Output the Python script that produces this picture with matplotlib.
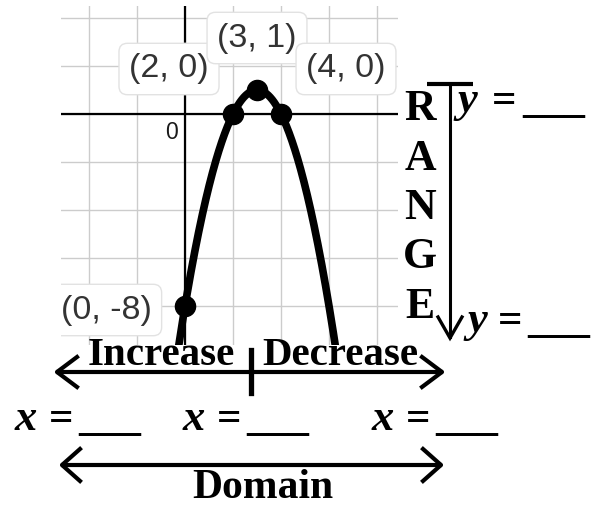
import numpy as np
import matplotlib
matplotlib.use("Agg")
import matplotlib.pyplot as plt

# points marked on the parabola
point_x = [0, 2, 3, 4]
point_y = [-8, 0, 1, 0]
point_labels = ["(0, -8)", "(2, 0)", "(3, 1)", "(4, 0)"]

# y = a x^2 + b x + c through the roots 2, 4 and vertex (3, 1)
coef = [-1, 6, -8]

x_ticks = [-4, -2, 0, 2, 4, 6, 8]
y_ticks = [-8, -6, -4, -2, 0, 2, 4]

range_letters = ["R", "A", "N", "G", "E"]
row_words = ["Increase", "Decrease"]

W, H = 594, 507
fig = plt.figure(figsize=(W / 100, H / 100), dpi=100)

# graph area in pixels (left, top, right, bottom)
gl, gt, gr, gb = 61, 6, 398, 345
ax = fig.add_axes([gl / W, 1 - gb / H, (gr - gl) / W, (gb - gt) / H])
ax.set_xlim(-5.17, 8.875)
ax.set_ylim(-9.625, 4.5)
ax.set_xticks(x_ticks)
ax.set_yticks(y_ticks)
ax.grid(True, color="#cccccc", lw=1.0)
ax.tick_params(length=0, labelbottom=False, labelleft=False)
for s in ax.spines.values():
    s.set_visible(False)
ax.axhline(0, color="black", lw=1.6, zorder=2)
ax.axvline(0, color="black", lw=1.6, zorder=2)

xs = np.linspace(-1, 7, 400)
ax.plot(xs, np.polyval(coef, xs), color="black", lw=5.5, zorder=3,
        solid_capstyle="butt")
ax.plot(point_x, point_y, "o", color="black", ms=14.5, zorder=4)
ax.text(-0.3, -0.78, "0", fontsize=16.5, color="#1a1a1a",
        ha="right", va="center", family="Liberation Sans")

# overlay in pixel coordinates
ov = fig.add_axes([0, 0, 1, 1], zorder=5)
ov.set_xlim(0, W)
ov.set_ylim(H, 0)
ov.axis("off")

label_pos = [(106, 310), (169, 69), (257, 38), (346, 69)]
for (lx, ly), lab in zip(label_pos, point_labels):
    t = ov.text(lx, ly, lab, fontsize=24.5, color="#333333", ha="center",
                va="center", family="Liberation Sans",
                bbox=dict(boxstyle="round,pad=0.3,rounding_size=0.25",
                          fc="white", ec="#e2e2e2", lw=1.0))
    t.set_clip_box(ax.bbox)
    t.set_clip_on(True)

serif = "Liberation Serif"
# RANGE column and its arrow
for i, ch in enumerate(range_letters):
    ov.text(420, 120 + 49.5 * i, ch, fontsize=31.5, fontweight="bold",
            family=serif, ha="center", va="baseline")
ov.plot([427, 473], [84, 84], color="black", lw=3, solid_capstyle="butt")
ov.plot([450, 450], [84, 337], color="black", lw=2.2)
ov.plot([438, 450, 462], [317, 338, 317], color="black", lw=2.4,
        solid_joinstyle="miter")

def blank(x_left, eq_left, line_left, base, var):
    ov.text(x_left, base, var, fontsize=32, fontweight="bold",
            style="italic", family=serif, va="baseline")
    ov.text(eq_left, base, "=", fontsize=31, fontweight="bold",
            family=serif, va="baseline")
    ov.text(line_left, base, "___", fontsize=30, fontweight="bold",
            family=serif, va="baseline")

blank(457, 492, 522, 112, "y")
blank(467, 498, 527, 332, "y")
for xl in [15, 183, 372]:
    blank(xl, xl + 34, xl + 63, 430, "x")

# increase / decrease arrow
ov.text(88, 365, row_words[0], fontsize=29.5, fontweight="bold",
        family=serif, va="baseline")
ov.text(262, 365, row_words[1], fontsize=29.5, fontweight="bold",
        family=serif, va="baseline")
ov.plot([58, 441], [372, 372], color="black", lw=3)
ov.plot([77, 57, 77], [357, 372, 387], color="black", lw=3)
ov.plot([422, 442, 422], [357, 372, 387], color="black", lw=3)
ov.plot([251, 251], [350, 393], color="black", lw=3.8)

# domain arrow
ov.plot([63, 440], [465, 465], color="black", lw=3)
ov.plot([80, 62, 80], [449, 465, 481], color="black", lw=3)
ov.plot([423, 441, 423], [449, 465, 481], color="black", lw=3)
ov.text(263, 498, "Domain", fontsize=30, fontweight="bold", family=serif,
        ha="center", va="baseline")

fig.savefig("out.png", dpi=100)
